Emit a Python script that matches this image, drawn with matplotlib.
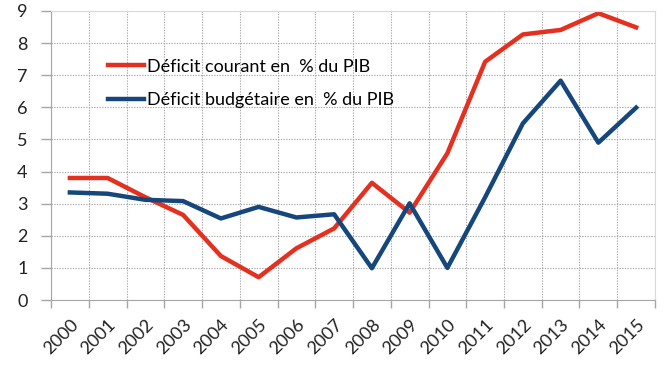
import matplotlib

matplotlib.use("Agg")
import matplotlib.pyplot as plt
import numpy as np

years = [str(y) for y in range(2000, 2016)]
courant = [3.8, 3.8, 3.2, 2.65, 1.37, 0.71, 1.61, 2.23, 3.65, 2.72, 4.57, 7.42, 8.27, 8.41, 8.93, 8.49]
budget = [3.35, 3.31, 3.12, 3.08, 2.54, 2.9, 2.57, 2.67, 0.99, 3.01, 1.0, 3.2, 5.5, 6.83, 4.9, 5.99]

RED = "#E5301F"
BLUE = "#15467C"
GRID = "#A6A6A6"
FS = 13

plt.rcParams.update({"font.family": ["Lato", "DejaVu Sans"], "font.size": FS})

fig = plt.figure(figsize=(6.72, 3.79), dpi=100)
ax = fig.add_axes([0.0759, 0.2084, 0.8988, 0.7626])

x = np.arange(len(years))
ax.plot(x, courant, color=RED, lw=3.2, label="Déficit courant en  % du PIB")
ax.plot(x, budget, color=BLUE, lw=3.2, label="Déficit budgétaire en  % du PIB")

ax.set_xlim(-0.5, len(years) - 0.5)
ax.set_ylim(0, 9)
ax.set_yticks(range(0, 10))

# tick marks & vertical grid on category boundaries, labels at centres
ax.set_xticks(np.arange(-0.5, len(years), 1.0))
ax.set_xticklabels([])
ax.set_xticks(x, minor=True)
ax.set_xticklabels(years, minor=True, rotation=45, ha="right", va="top",
                   rotation_mode="anchor", fontsize=FS, color="#222222")
ax.tick_params(axis="x", which="minor", length=0, pad=12)
ax.tick_params(axis="x", which="major", length=6, color=GRID, width=1)
ax.tick_params(axis="y", length=7, color=GRID, width=1, labelsize=FS,
               labelcolor="#222222", pad=10)

ax.grid(True, which="major", color=GRID, ls=(0, (1.2, 1.2)), lw=0.8)
ax.set_axisbelow(True)
for side in ["left", "bottom"]:
    ax.spines[side].set_color(GRID)
for side in ["top", "right"]:
    ax.spines[side].set_color("#D9D9D9")

ax.legend(loc="upper left", bbox_to_anchor=(0.082, 0.86), frameon=False,
          handlelength=2.0, handletextpad=0.2, labelspacing=0.95, fontsize=FS,
          borderaxespad=0)

fig.savefig("out.png", dpi=100)
